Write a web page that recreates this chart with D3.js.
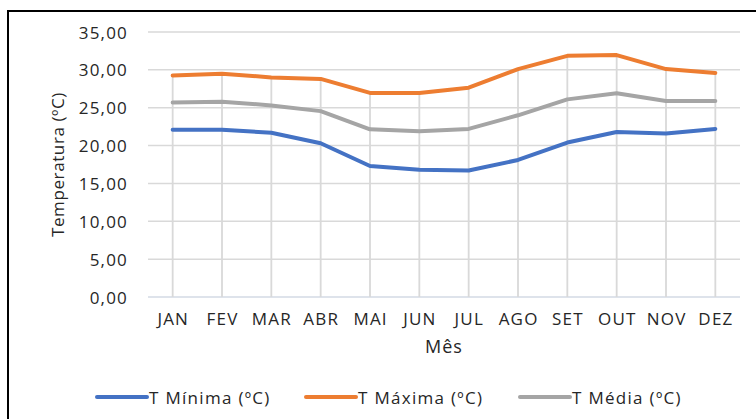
<!DOCTYPE html>
<html>
<head>
<meta charset="utf-8">
<script src="https://cdn.jsdelivr.net/npm/d3@7"></script>
<style>
  body { margin: 0; background: #fff; }
  svg { display: block; font-family: "Open Sans", sans-serif; }
</style>
</head>
<body>
<script>
const months = ["JAN", "FEV", "MAR", "ABR", "MAI", "JUN", "JUL", "AGO", "SET", "OUT", "NOV", "DEZ"];
const tMin = [22.1, 22.1, 21.7, 20.3, 17.3, 16.8, 16.7, 18.1, 20.4, 21.8, 21.6, 22.2];
const tMax = [29.25, 29.5, 29.0, 28.8, 26.95, 26.95, 27.65, 30.1, 31.85, 31.95, 30.1, 29.6];
const tMed = [25.7, 25.8, 25.3, 24.55, 22.15, 21.9, 22.2, 24.0, 26.1, 26.9, 25.9, 25.9];
const yTicks = [0, 5, 10, 15, 20, 25, 30, 35];
const seriesNames = ["T Mínima (ºC)", "T Máxima (ºC)", "T Média (ºC)"];
const seriesColors = ["#4472C4", "#ED7D31", "#A5A5A5"];

const W = 756, H = 419;
const plotLeft = 148, plotRight = 740, plotTop = 32, plotBottom = 297;
const textColor = "#262626";

const svg = d3.select("body").append("svg").attr("width", W).attr("height", H);

// frame
svg.append("rect")
  .attr("x", 8).attr("y", 11)
  .attr("width", W + 10).attr("height", H + 10)
  .attr("fill", "none").attr("stroke", "#000").attr("stroke-width", 2);

const x = d3.scaleBand().domain(months).range([plotLeft, plotRight]);
const y = d3.scaleLinear().domain([0, 35]).range([plotBottom, plotTop]);

// horizontal grid
svg.append("g").selectAll("line").data(yTicks).join("line")
  .attr("x1", plotLeft).attr("x2", plotRight)
  .attr("y1", (d) => y(d)).attr("y2", (d) => y(d))
  .attr("stroke", (d) => (d === 0 ? "#D3DAE4" : "#D9D9D9"))
  .attr("stroke-width", 1.5);

// drop lines from the highest series to the axis
svg.append("g").selectAll("line").data(months).join("line")
  .attr("x1", (d) => x(d) + x.bandwidth() / 2)
  .attr("x2", (d) => x(d) + x.bandwidth() / 2)
  .attr("y1", (d, i) => y(tMax[i]))
  .attr("y2", y(0))
  .attr("stroke", "#D9D9D9").attr("stroke-width", 1.8);

// y tick labels
svg.append("g").selectAll("text").data(yTicks).join("text")
  .attr("x", 128).attr("y", (d) => y(d))
  .attr("text-anchor", "end").attr("dominant-baseline", "central")
  .attr("font-size", "17px").attr("letter-spacing", "1.2px")
  .attr("fill", textColor)
  .text((d) => d3.format(".2f")(d).replace(".", ","));

// x tick labels
svg.append("g").selectAll("text").data(months).join("text")
  .attr("x", (d) => x(d) + x.bandwidth() / 2 + 0.6).attr("y", 318)
  .attr("text-anchor", "middle").attr("dominant-baseline", "central")
  .attr("font-size", "17px").attr("letter-spacing", "1.2px")
  .attr("fill", textColor)
  .text((d) => d);

// axis titles
svg.append("text")
  .attr("x", (plotLeft + plotRight) / 2).attr("y", 346)
  .attr("text-anchor", "middle").attr("dominant-baseline", "central")
  .attr("font-size", "18px").attr("letter-spacing", "1px")
  .attr("fill", textColor).text("Mês");

svg.append("text")
  .attr("transform", `translate(57,${(plotTop + plotBottom) / 2}) rotate(-90)`)
  .attr("text-anchor", "middle").attr("dominant-baseline", "central")
  .attr("font-size", "17px").attr("letter-spacing", "0.6px")
  .attr("fill", textColor).text("Temperatura (ºC)");

// series lines
const line = d3.line()
  .x((d, i) => x(months[i]) + x.bandwidth() / 2)
  .y((d) => y(d));

[tMin, tMax, tMed].forEach((values, k) => {
  svg.append("path")
    .datum(values)
    .attr("d", line)
    .attr("fill", "none")
    .attr("stroke", seriesColors[k])
    .attr("stroke-width", 4)
    .attr("stroke-linejoin", "round")
    .attr("stroke-linecap", "round");
});

// legend
const legendX = [97, 306, 520];
const legend = svg.append("g").selectAll("g").data(seriesNames).join("g")
  .attr("transform", (d, i) => `translate(${legendX[i]},397)`);

legend.append("line")
  .attr("x1", 0).attr("x2", 50)
  .attr("stroke", (d, i) => seriesColors[i])
  .attr("stroke-width", 4).attr("stroke-linecap", "round");

legend.append("text")
  .attr("x", 52).attr("y", 0)
  .attr("dominant-baseline", "central")
  .attr("font-size", "17px").attr("letter-spacing", "1.3px")
  .attr("fill", textColor)
  .text((d) => d);
</script>
</body>
</html>
